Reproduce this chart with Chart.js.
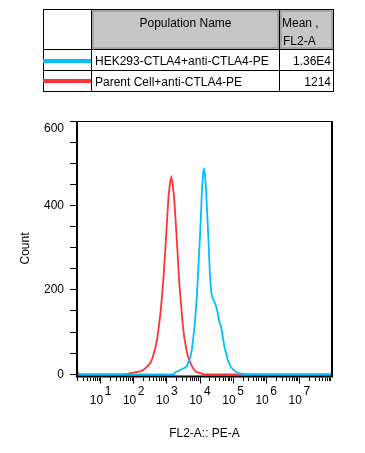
<!DOCTYPE html>
<html>
<head>
<meta charset="utf-8">
<script src="https://cdn.jsdelivr.net/npm/chart.js@4/dist/chart.umd.min.js"></script>
<style>
  html, body { margin:0; padding:0; background:#fff; }
  #wrap { position:relative; width:365px; height:453px; overflow:hidden; font-family:"Liberation Sans", Arial, sans-serif; font-size:12px; color:#000; }
  #c { position:absolute; left:0; top:0; }
  .a { position:absolute; }
  .ln { position:absolute; background:#000; }
  .hdr { position:absolute; background:#c6c6c6; border:2px solid #a6a6a6; box-sizing:border-box; }
  .t { position:absolute; white-space:nowrap; line-height:14px; }
</style>
</head>
<body>
<div id="wrap">
  <canvas id="c" width="365" height="453"></canvas>
  <!-- legend table -->
  <div class="hdr" style="left:92px;top:10px;width:187px;height:39px;"></div>
  <div class="hdr" style="left:280px;top:10px;width:53px;height:39px;"></div>
  <div class="ln" style="left:43px;top:9px;width:291px;height:1px;"></div>
  <div class="ln" style="left:43px;top:91px;width:291px;height:1px;"></div>
  <div class="ln" style="left:43px;top:9px;width:1px;height:83px;"></div>
  <div class="ln" style="left:333px;top:9px;width:1px;height:83px;"></div>
  <div class="ln" style="left:91px;top:9px;width:1px;height:83px;"></div>
  <div class="ln" style="left:279px;top:9px;width:1px;height:83px;"></div>
  <div class="ln" style="left:43px;top:49px;width:291px;height:1px;"></div>
  <div class="ln" style="left:43px;top:70px;width:291px;height:1px;"></div>
  <div id="hdrPop" class="t" style="left:92px;width:187px;top:16px;text-align:center;"></div>
  <div id="hdrMean1" class="t" style="left:282px;top:16px;"></div>
  <div id="hdrMean2" class="t" style="left:283px;top:34px;"></div>
  <div id="sw0" class="a" style="left:43px;top:59px;width:48px;height:4px;"></div>
  <div id="sw1" class="a" style="left:43px;top:79px;width:48px;height:4px;"></div>
  <div id="name0" class="t" style="left:95px;top:54px;"></div>
  <div id="name1" class="t" style="left:95px;top:75px;"></div>
  <div id="mean0" class="t" style="right:34px;top:54px;text-align:right;"></div>
  <div id="mean1" class="t" style="right:34px;top:75px;text-align:right;"></div>
</div>
<script>
// ---------------- data ----------------
const seriesNames = ["HEK293-CTLA4+anti-CTLA4-PE", "Parent Cell+anti-CTLA4-PE"];
const seriesMeans = ["1.36E4", "1214"];
const seriesColors = ["#00bfff", "#ff3333"];
const tableHeaders = ["Population Name", "Mean ,", "FL2-A"];

// HEK293-CTLA4 (blue): FL2-A value and count
const blueX = [2, 1700, 1849, 2323, 2938, 3697, 4159, 4645, 5224, 5877, 6561, 7380, 8300, 9271, 10420, 11170, 11970, 13090, 13740, 14720, 15780, 17260, 19010, 20800, 22760, 25060, 27990, 31480, 35450, 39630, 44570, 50150, 55990, 62970, 70820, 82990, 100000, 125600, 165700, 208000, 250000, 1e8];
const blueCount = [0, 0, 5, 8, 12, 16, 20, 28, 39, 59, 90, 129, 184, 255, 333, 388, 443, 482, 485, 471, 435, 373, 302, 231, 192, 180, 173, 161, 145, 125, 114, 90, 67, 51, 35, 21, 12, 6, 2, 1, 0, 0];

// Parent cell (red)
const redX = [2, 2.3, 60, 82, 164, 207, 261, 329, 370, 413, 465, 523, 583, 656, 738, 824, 927, 1042, 1164, 1309, 1403, 1535, 1726, 1941, 2168, 2438, 2742, 3063, 3451, 3881, 4335, 4876, 5598, 6561, 7907, 10420, 13000, 1e8];
const redCount = [8, 0, 0, 3, 7, 11, 18, 27, 36, 48, 63, 83, 110, 142, 185, 232, 295, 363, 423, 458, 466, 454, 414, 352, 289, 218, 171, 124, 88, 65, 46, 34, 23, 13, 6, 3, 0, 0];

// axes
const xMin = 2, xMax = 1e8;
const xTickExponents = [1, 2, 3, 4, 5, 6, 7];
const xMinorMultipliers = [2, 3, 4, 5, 6, 7, 8, 9];
const yTicks = [0, 50, 100, 150, 200, 250, 300, 350, 400, 450, 500, 550, 600];
const yTickLabels = [0, 200, 400, 600];
const xTitle = "FL2-A:: PE-A";
const yTitle = "Count";

// ---------------- table ----------------
document.getElementById('hdrPop').textContent = tableHeaders[0];
document.getElementById('hdrMean1').textContent = tableHeaders[1];
document.getElementById('hdrMean2').textContent = tableHeaders[2];
for (let i = 0; i < 2; i++) {
  document.getElementById('sw' + i).style.background = seriesColors[i];
  document.getElementById('name' + i).textContent = seriesNames[i];
  document.getElementById('mean' + i).textContent = seriesMeans[i];
}

// ---------------- chart ----------------
const FONT = '"Liberation Sans", Arial, sans-serif';
const toPts = (xs, ys) => xs.map((x, i) => ({ x: x, y: ys[i] }));

const framePlugin = {
  id: 'frame',
  afterDatasetsDraw(chart) {
    const { ctx, chartArea: a } = chart;
    const xs = chart.scales.x;
    ctx.save();
    ctx.strokeStyle = '#000';
    // top + right
    ctx.lineWidth = 1;
    ctx.beginPath(); ctx.moveTo(a.left, a.top + 0.5); ctx.lineTo(a.right, a.top + 0.5); ctx.stroke();
    ctx.lineWidth = 2;
    ctx.beginPath(); ctx.moveTo(a.right, a.top); ctx.lineTo(a.right, a.bottom + 1); ctx.stroke();
    // left + bottom (axes)
    ctx.beginPath(); ctx.moveTo(a.left, a.top); ctx.lineTo(a.left, a.bottom + 1.5); ctx.stroke();
    ctx.beginPath(); ctx.moveTo(a.left - 1, a.bottom + 0.5); ctx.lineTo(a.right + 1, a.bottom + 0.5); ctx.stroke();
    // x tick marks from the scale's ticks
    ctx.lineWidth = 1;
    const yb = a.bottom + 1.5;
    xs.ticks.forEach(t => {
      const px = Math.round(xs.getPixelForValue(t.value)) + 0.5;
      const len = t.major ? 6 : 3.5;
      ctx.beginPath(); ctx.moveTo(px, yb); ctx.lineTo(px, yb + len); ctx.stroke();
    });
    // x tick labels 10^n
    ctx.fillStyle = '#000';
    ctx.textBaseline = 'alphabetic';
    xTickExponents.forEach(n => {
      const px = xs.getPixelForValue(Math.pow(10, n));
      ctx.font = '12px ' + FONT;
      ctx.textAlign = 'right';
      ctx.fillText('10', px + 3, 403.5);
      ctx.textAlign = 'left';
      ctx.fillText(String(n), px + 4.5, 394.5);
    });
    ctx.restore();
  }
};

new Chart(document.getElementById('c'), {
  type: 'line',
  data: {
    datasets: [
      { label: seriesNames[0], data: toPts(blueX, blueCount), borderColor: seriesColors[0], borderWidth: 1.8, pointRadius: 0, tension: 0, fill: false },
      { label: seriesNames[1], data: toPts(redX, redCount), borderColor: seriesColors[1], borderWidth: 1.8, pointRadius: 0, tension: 0, fill: false }
    ]
  },
  options: {
    responsive: false,
    animation: false,
    devicePixelRatio: 1,
    layout: { padding: { top: 121, right: 33, left: 0, bottom: 0 } },
    plugins: { legend: { display: false }, tooltip: { enabled: false } },
    scales: {
      x: {
        type: 'logarithmic',
        min: xMin, max: xMax,
        afterBuildTicks: s => {
          const t = [];
          xTickExponents.concat([0]).forEach(n => {
            const base = Math.pow(10, n);
            if (base >= xMin && base <= xMax) t.push({ value: base, major: true });
            xMinorMultipliers.forEach(m => {
              const v = m * base;
              if (v >= xMin && v <= xMax) t.push({ value: v, major: false });
            });
          });
          t.sort((a, b) => a.value - b.value);
          s.ticks = t;
        },
        afterFit: s => { s.height = 77; },
        grid: { display: false },
        border: { display: false },
        ticks: { display: false },
        title: { display: true, text: xTitle, color: '#000', font: { size: 12, family: FONT }, padding: { top: 0, bottom: 12 } }
      },
      y: {
        type: 'linear',
        min: -4, max: 600,
        afterBuildTicks: s => { s.ticks = yTicks.map(v => ({ value: v })); },
        afterFit: s => { s.width = 77; },
        grid: { drawOnChartArea: false, tickLength: 7, color: '#000', tickColor: '#000', tickWidth: 1 },
        border: { display: false },
        ticks: {
          color: '#000', padding: 6, font: { size: 12, family: FONT }, autoSkip: false,
          callback: v => yTickLabels.includes(v) ? (v === 600 ? ['', String(v)] : String(v)) : ''
        },
        title: { display: true, text: yTitle, color: '#000', font: { size: 12, family: FONT }, padding: { top: 18, bottom: 0 } }
      }
    }
  },
  plugins: [framePlugin]
});
</script>
</body>
</html>
